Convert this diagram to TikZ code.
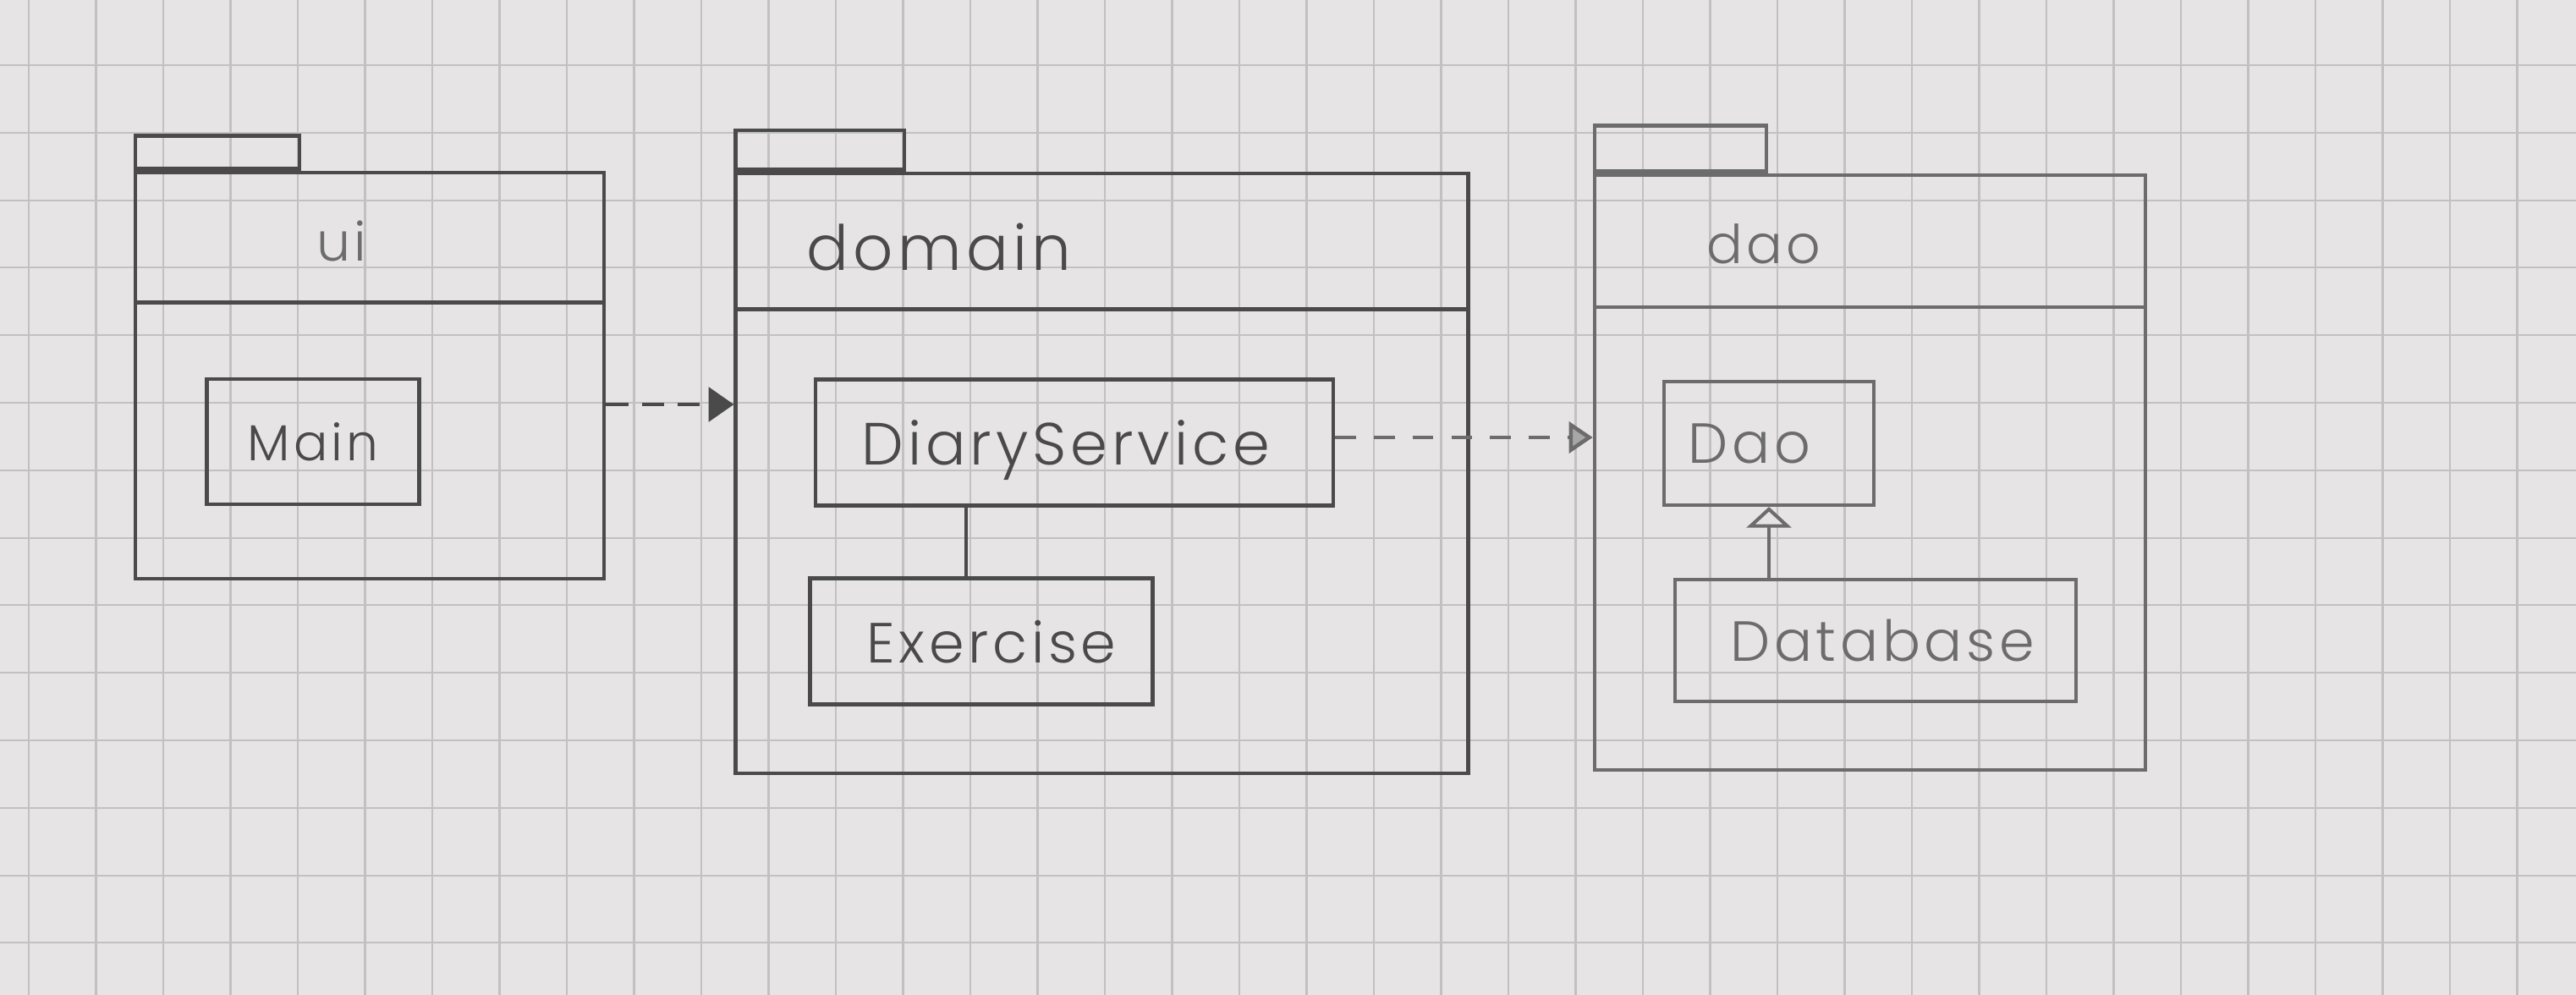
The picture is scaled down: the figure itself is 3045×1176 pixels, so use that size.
\documentclass[tikz,border=0pt]{standalone}
\usepackage{fontspec}
\newfontfamily\hand{Poppins}[UprightFont=* Light, LetterSpace=7]
\usetikzlibrary{arrows.meta}
\definecolor{paper}{RGB}{230,228,229}
\definecolor{gridc}{RGB}{194,192,193}
\definecolor{pencil}{RGB}{74,74,74}
\definecolor{pencilL}{RGB}{108,108,108}
\tikzset{
  pkg/.style={draw=pencil, line width=1.3pt, inner sep=0pt},
  pkgL/.style={draw=pencilL, line width=1.2pt, inner sep=0pt},
  tabbox/.style={draw=pencil, line width=1.3pt, inner sep=0pt, anchor=south west},
  tabboxL/.style={draw=pencilL, line width=1.2pt, inner sep=0pt, anchor=south west},
  cls/.style={draw=pencil, line width=1.25pt, inner sep=0pt, text=pencil, font=\hand, text depth=0pt},
  clsL/.style={draw=pencilL, line width=1.15pt, inner sep=0pt, text=pencilL, font=\hand, text depth=0pt},
  txt/.style={inner sep=0pt, text depth=0pt},
  pkglabel/.style={inner sep=0pt, text=pencil, font=\hand},
  divider/.style={draw=pencil, line width=1.25pt},
  dividerL/.style={draw=pencilL, line width=1.15pt},
  dep/.style={draw=pencil, line width=1.3pt, dash pattern=on 7.5pt off 4.5pt,
    -{Triangle[length=8.5pt,width=11.5pt]}},
  depL/.style={draw=pencilL, line width=1.3pt, dash pattern=on 7pt off 6pt,
    -{Triangle[length=8pt,width=10.5pt,fill=pencilL!60]}},
  assoc/.style={draw=pencil, line width=1.25pt},
  gen/.style={draw=pencilL, line width=1.15pt, -{Triangle[length=7pt,width=15pt,fill=paper]}}
}
\begin{document}
\begin{tikzpicture}[x=0.01cm,y=-0.01cm]
\useasboundingbox (0,0) rectangle (3045,1176);
\fill[paper] (0,0) rectangle (3045,1176);
\begin{scope}
  \clip (0,0) rectangle (3045,1176);
  \foreach \k in {0,...,38} {
    \draw[gridc, line width=0.6pt] ({34+79.5*\k},0) -- ({34+79.5*\k},1176);
  }
  \foreach \j in {-1,...,13} {
    \draw[gridc, line width=0.6pt] (0,{77+79.8*\j}) -- (3045,{77+79.8*\j});
  }
\end{scope}

% ---------- package ui ----------
\node[pkg, minimum width=5.54cm, minimum height=4.80cm] (uiPkg) at (437,444) {};
\node[tabbox, minimum width=1.94cm, minimum height=0.39cm] (uiTab) at (uiPkg.north west) {};
\draw[divider] ([yshift=-1.56cm]uiPkg.north west) -- ([yshift=-1.56cm]uiPkg.north east);
\node[pkglabel, font=\hand\fontsize{18}{20}\selectfont, text=pencilL] (uiLabel) at (404,285) {ui};
\node[cls, minimum width=2.51cm, minimum height=1.48cm, font=\hand\fontsize{17}{20}\selectfont] (Main) at (370,522) {Main};

% ---------- package domain ----------
\node[pkg, minimum width=8.65cm, minimum height=7.09cm] (domainPkg) at (1302.5,559.5) {};
\node[tabbox, minimum width=1.99cm, minimum height=0.46cm] (domainTab) at (domainPkg.north west) {};
\draw[divider] ([yshift=-1.63cm]domainPkg.north west) -- ([yshift=-1.63cm]domainPkg.north east);
\node[pkglabel, font=\hand\fontsize{21}{23}\selectfont] (domainLabel) at (1110,292) {domain};
\node[cls, minimum width=6.12cm, minimum height=1.49cm] (DiaryService) at (1270,523) {};
\node[txt, text=pencil, font=\hand\fontsize{20}{22}\selectfont] (DiaryServiceText) at ([xshift=-0.1cm]DiaryService.center) {DiaryService};
\node[cls, minimum width=4.05cm, minimum height=1.49cm] (Exercise) at (1160,758) {};
\node[txt, text=pencil, font=\hand\fontsize{19}{21}\selectfont] (ExerciseText) at ([xshift=0.12cm]Exercise.center) {Exercise};

% ---------- package dao ----------
\node[pkgL, minimum width=6.51cm, minimum height=7.03cm] (daoPkg) at (2210.5,558.5) {};
\node[tabboxL, minimum width=2.03cm, minimum height=0.54cm] (daoTab) at (daoPkg.north west) {};
\draw[dividerL] ([yshift=-1.58cm]daoPkg.north west) -- ([yshift=-1.58cm]daoPkg.north east);
\node[pkglabel, font=\hand\fontsize{18}{20}\selectfont, text=pencilL] (daoLabel) at (2085,288) {dao};
\node[clsL, minimum width=2.48cm, minimum height=1.46cm] (Dao) at (2091,524) {};
\node[txt, text=pencilL, font=\hand\fontsize{19}{21}\selectfont] (DaoText) at ([xshift=-0.23cm]Dao.center) {Dao};
\node[clsL, minimum width=4.73cm, minimum height=1.43cm] (Database) at (2217,757) {};
\node[txt, text=pencilL, font=\hand\fontsize{19}{21}\selectfont] (DatabaseText) at ([xshift=0.08cm]Database.center) {Database};

% ---------- connectors ----------
\draw[dep] ([yshift=-0.34cm]uiPkg.east) -- ([yshift=-0.34cm]uiPkg.east -| domainPkg.west);
\draw[depL] ([yshift=0.06cm]DiaryService.east) -- ([yshift=0.06cm]DiaryService.east -| daoPkg.west);
\draw[assoc] ([xshift=-0.18cm]Exercise.north) -- ([xshift=-0.18cm]Exercise.north |- DiaryService.south);
\draw[gen] (Dao.south |- Database.north) -- (Dao.south);
\end{tikzpicture}
\end{document}
